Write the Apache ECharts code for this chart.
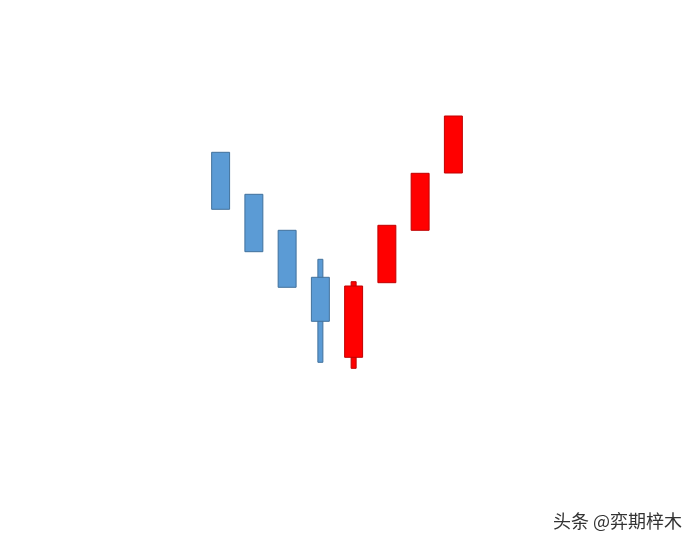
<!DOCTYPE html>
<html>
<head>
<meta charset="utf-8">
<script src="https://cdn.jsdelivr.net/npm/echarts@6/dist/echarts.min.js"></script>
<style>
html,body{margin:0;padding:0;background:#fff;}
#chart{width:696px;height:549px;}
</style>
</head>
<body>
<div id="chart"></div>
<script>
var categories = ['1','2','3','4','5','6','7','8'];
var openValues  = [247.7, 205.7, 169.7, 122.7, 42.7, 117.3, 169.7, 227.0];
var closeValues = [190.7, 148.3, 112.7, 78.7, 114.0, 174.7, 226.7, 284.0];
var lowValues   = [190.7, 148.3, 112.7, 37.7, 31.7, 117.3, 169.7, 227.0];
var highValues  = [247.7, 205.7, 169.7, 140.7, 118.3, 174.7, 226.7, 284.0];
var watermark = '头条 @弈期梓木';

var data = categories.map(function (c, i) {
  return [i, openValues[i], closeValues[i], lowValues[i], highValues[i]];
});

var chart = echarts.init(document.getElementById('chart'));
chart.setOption({
  backgroundColor: '#ffffff',
  animation: false,
  grid: { left: 204, right: 226, top: 100, bottom: 149 },
  xAxis: { type: 'category', data: categories, show: false },
  yAxis: { type: 'value', min: 0, max: 300, show: false },
  graphic: [{
    type: 'text', left: 553, top: 512,
    style: { text: watermark, fill: '#333333', font: '18px "Noto Sans CJK SC", sans-serif' }
  }],
  series: [{
    type: 'custom',
    data: data,
    encode: { x: 0, y: [1, 2, 3, 4] },
    renderItem: function (params, api) {
      var x = api.value(0);
      var o = api.value(1), c = api.value(2), lo = api.value(3), hi = api.value(4);
      var up = c > o;
      var fill = up ? '#ff0000' : '#5b9bd5';
      var stroke = up ? '#c00000' : '#41719c';
      var band = api.size([1, 0])[0];
      var bw = band * 0.54;
      var ww = 5;
      var pTop = api.coord([x, Math.max(o, c)]);
      var pBot = api.coord([x, Math.min(o, c)]);
      var pHi = api.coord([x, hi]);
      var pLo = api.coord([x, lo]);
      var children = [];
      if (pLo[1] - pHi[1] > pBot[1] - pTop[1] + 0.5) {
        children.push({
          type: 'rect',
          shape: { x: pHi[0] - ww / 2, y: pHi[1], width: ww, height: pLo[1] - pHi[1] },
          style: { fill: fill, stroke: stroke, lineWidth: 1 }
        });
      }
      children.push({
        type: 'rect',
        shape: { x: pTop[0] - bw / 2, y: pTop[1], width: bw, height: pBot[1] - pTop[1] },
        style: { fill: fill, stroke: stroke, lineWidth: 1 }
      });
      return { type: 'group', children: children };
    }
  }]
});
</script>
</body>
</html>
